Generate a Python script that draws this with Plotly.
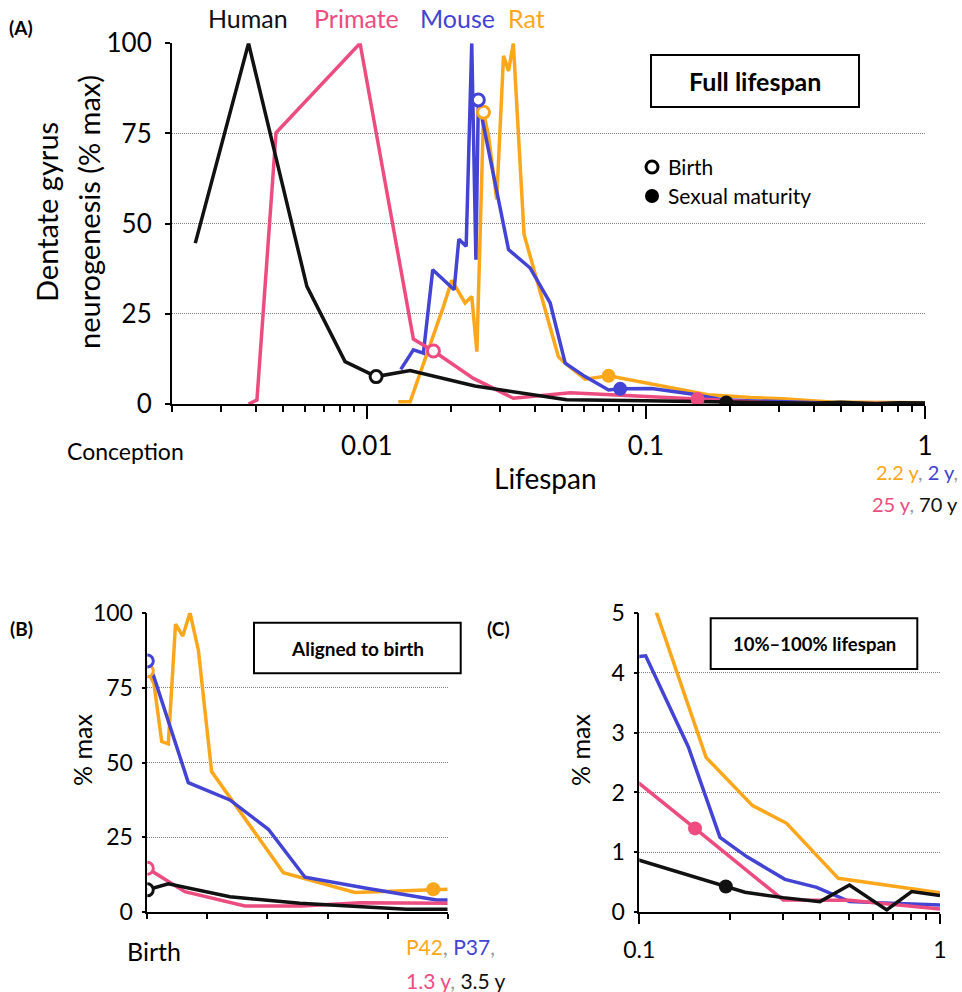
import math
import plotly.graph_objects as go

W, H = 962, 992
FONT = "Lato"

BLACK = "#111111"
PINK = "#EC4C7F"
BLUE = "#4343D4"
ORANGE = "#FCA71B"
GRID = "#808080"
GRIDDASH = "1px,1px"
COMMA = "#9a9a9a"

species = ["Human", "Primate", "Mouse", "Rat"]

# ---------- Full lifespan data (fraction of lifespan, % max) ----------
human_x = [0.00243, 0.00377, 0.0061, 0.00836, 0.0108, 0.0143, 0.0244, 0.052, 0.1, 0.194,
           0.2245, 0.301, 0.399, 0.5, 0.665, 0.805, 1.0]
human_y = [44.6, 100, 32.6, 11.75, 7.6, 9.25, 5.0, 1.2, 0.87, 0.43,
           0.334, 0.245, 0.178, 0.456, 0.039, 0.345, 0.278]
human_birth, human_mat = 4, 9

primate_x = [0.00377, 0.00404, 0.00473, 0.00946, 0.01469, 0.01733, 0.0241, 0.0335, 0.0536,
             0.1, 0.1532, 0.301, 0.5, 0.63, 1.0]
primate_y = [0, 1.1, 75.2, 100, 18.0, 14.7, 7.1, 1.6, 3.1,
             2.15, 1.40, 0.206, 0.2, 0.15, 0.056]
primate_birth, primate_mat = 5, 10

mouse_x = [0.01324, 0.01469, 0.01595, 0.01723, 0.02056, 0.02137, 0.0227, 0.02377, 0.0246,
           0.0251, 0.0322, 0.0385, 0.0454, 0.0514, 0.0606, 0.0735, 0.0809, 0.1, 0.105,
           0.1456, 0.1855, 0.2275, 0.305, 0.389, 0.5, 1.0]
mouse_y = [9.6, 15.0, 14.1, 37.2, 31.7, 45.7, 43.7, 100, 40,
           84.3, 42.8, 37.7, 28, 11.3, 7.6, 3.9, 4.2, 4.27, 4.28,
           2.76, 1.25, 0.93, 0.55, 0.417, 0.178, 0.122]
mouse_birth, mouse_mat = 9, 16

rat_x = [0.01297, 0.0143, 0.01882, 0.02017, 0.0225, 0.02377, 0.0248, 0.0262, 0.0273,
         0.0292, 0.0309, 0.0322, 0.0335, 0.0366, 0.0486, 0.0514, 0.0606, 0.0735, 0.1667,
         0.238, 0.309, 0.459, 1.0]
rat_y = [0.6, 0.6, 27, 34.3, 28, 29.8, 14.5, 80.9, 74.3,
         56.7, 96.5, 92.3, 100, 47, 13.1, 11.3, 6.9, 7.8, 2.586,
         1.78, 1.485, 0.567, 0.328]
rat_birth, rat_mat = 7, 17

# ---------- Aligned to birth (fraction of birth -> maturity interval) ----------
b_human_x = [0, 0.07, 0.275, 0.508, 0.863, 1.0]
b_human_y = [7.5, 9.5, 5.2, 3.0, 1.0, 1.0]
b_primate_x = [0, 0.125, 0.325, 0.514, 0.708, 1.0]
b_primate_y = [14.7, 6.9, 2.1, 2.1, 3.2, 3.0]
b_mouse_x = [0, 0.022, 0.1365, 0.275, 0.403, 0.525, 0.73, 0.963, 1.0]
b_mouse_y = [83.9, 78.6, 43.3, 37.5, 27.7, 11.7, 8.0, 4.1, 4.1]
b_rat_x = [0, 0.022, 0.048, 0.07, 0.094, 0.118, 0.142, 0.17, 0.214, 0.453, 0.691, 0.952, 1.0]
b_rat_y = [80.6, 76.4, 57, 56.2, 96.2, 92.2, 100, 87.5, 47, 13.2, 6.6, 7.7, 7.7]
b_rat_mat = 11

yticks_pct = [0, 25, 50, 75, 100]
yticks_c = [0, 1, 2, 3, 4, 5]

full = [
    (human_x, human_y, human_birth, human_mat, BLACK),
    (primate_x, primate_y, primate_birth, primate_mat, PINK),
    (mouse_x, mouse_y, mouse_birth, mouse_mat, BLUE),
    (rat_x, rat_y, rat_birth, rat_mat, ORANGE),
]
aligned = [
    (b_human_x, b_human_y, BLACK),
    (b_primate_x, b_primate_y, PINK),
    (b_mouse_x, b_mouse_y, BLUE),
    (b_rat_x, b_rat_y, ORANGE),
]

LW = 3.5
fig = go.Figure()

draw_order = [3, 2, 1, 0]
for ax, ay in [("x", "y"), ("x3", "y3")]:
    for i in draw_order:
        xs, ys, bi, mi, col = full[i]
        fig.add_trace(go.Scatter(x=xs, y=ys, mode="lines", xaxis=ax, yaxis=ay,
                                 line=dict(color=col, width=LW), showlegend=False,
                                 hoverinfo="skip"))
    for i in draw_order:
        xs, ys, bi, mi, col = full[i]
        fig.add_trace(go.Scatter(x=[xs[bi]], y=[ys[bi]], mode="markers", xaxis=ax, yaxis=ay,
                                 marker=dict(symbol="circle", size=12, color="white",
                                             line=dict(color=col, width=3)),
                                 showlegend=False, hoverinfo="skip"))
        fig.add_trace(go.Scatter(x=[xs[mi]], y=[ys[mi]], mode="markers", xaxis=ax, yaxis=ay,
                                 marker=dict(symbol="circle", size=14, color=col,
                                             line=dict(width=0)),
                                 showlegend=False, hoverinfo="skip"))

for i in draw_order:
    xs, ys, col = aligned[i]
    fig.add_trace(go.Scatter(x=xs, y=ys, mode="lines", xaxis="x2", yaxis="y2",
                             line=dict(color=col, width=LW), showlegend=False, hoverinfo="skip"))
for i in draw_order:
    xs, ys, col = aligned[i]
    fig.add_trace(go.Scatter(x=[xs[0]], y=[ys[0]], mode="markers", xaxis="x2", yaxis="y2",
                             marker=dict(symbol="circle", size=12, color="white",
                                         line=dict(color=col, width=3)),
                             showlegend=False, hoverinfo="skip"))
fig.add_trace(go.Scatter(x=[b_rat_x[b_rat_mat]], y=[b_rat_y[b_rat_mat]], mode="markers",
                         xaxis="x2", yaxis="y2",
                         marker=dict(symbol="circle", size=14, color=ORANGE, line=dict(width=0)),
                         showlegend=False, hoverinfo="skip"))


def px(x):
    return x / W


def py(y):
    return 1 - y / H


minorA = [k * d for d in (0.001, 0.01, 0.1) for k in range(2, 10) if 0.002 <= k * d <= 1]
minorC = [k * 0.1 for k in range(2, 10)]

axis_common = dict(showline=True, linecolor="black", linewidth=1.5, ticks="outside",
                   tickcolor="black", tickwidth=1.5, zeroline=False, mirror=False,
                   fixedrange=True, automargin=False)

fig.update_layout(
    width=W, height=H, margin=dict(l=0, r=0, t=0, b=0, autoexpand=False),
    paper_bgcolor="white", plot_bgcolor="white",
    font=dict(family=FONT, color="black"),
    showlegend=False,
    xaxis=dict(domain=[px(171.7), px(925)], anchor="y", type="log",
               range=[math.log10(0.002), 0], tickmode="array", tickvals=[0.01, 0.1, 1],
               ticktext=["0.01", "0.1", "1"], ticklen=13, showgrid=False,
               tickfont=dict(size=26), ticklabelstandoff=5,
               minor=dict(ticks="outside", ticklen=6, tickwidth=1.5, tickcolor="black",
                          tickmode="array", tickvals=minorA, showgrid=False),
               **axis_common),
    yaxis=dict(domain=[py(404), py(43.3)], anchor="x", range=[0, 100], tickmode="array",
               tickvals=yticks_pct, ticklen=5, showgrid=True, gridcolor=GRID,
               griddash=GRIDDASH, gridwidth=1, tickfont=dict(size=26), ticklabelstandoff=8,
               **axis_common),
    xaxis2=dict(domain=[px(147.3), px(447.7)], anchor="y2", range=[0, 1], tickmode="array",
                tickvals=[0, 0.2, 0.4, 0.6, 0.8, 1.0], showticklabels=False, ticklen=5,
                showgrid=False, **axis_common),
    yaxis2=dict(domain=[py(912.3), py(612.7)], anchor="x2", range=[0, 100], tickmode="array",
                tickvals=yticks_pct, ticklen=4, showgrid=True, gridcolor=GRID,
                griddash=GRIDDASH, gridwidth=1, tickfont=dict(size=23), ticklabelstandoff=4,
                **axis_common),
    xaxis3=dict(domain=[px(639.3), px(940)], anchor="y3", type="log", range=[-1, 0],
                tickmode="array", tickvals=[0.1, 1], ticktext=["0.1", "1"], ticklen=10,
                showgrid=False, tickfont=dict(size=23), ticklabelstandoff=6,
                minor=dict(ticks="outside", ticklen=6, tickwidth=1.5, tickcolor="black",
                           tickmode="array", tickvals=minorC, showgrid=False),
                **axis_common),
    yaxis3=dict(domain=[py(912.3), py(612.7)], anchor="x3", range=[0, 5], tickmode="array",
                tickvals=yticks_c, ticklen=4, showgrid=True, gridcolor=GRID,
                griddash=GRIDDASH, gridwidth=1, tickfont=dict(size=23), ticklabelstandoff=4,
                **axis_common),
)

shapes = []
ann = []


def box(x0, y0, x1, y1, text, size):
    shapes.append(dict(type="rect", xref="paper", yref="paper", x0=px(x0), x1=px(x1),
                       y0=py(y1), y1=py(y0), line=dict(color="black", width=2),
                       fillcolor="white", layer="above"))
    ann.append(dict(xref="paper", yref="paper", x=px((x0 + x1) / 2), y=py((y0 + y1) / 2),
                    text="<b>%s</b>" % text, showarrow=False, font=dict(size=size),
                    xanchor="center", yanchor="middle"))


def label(x, y, text, size, color="black", xanchor="center", angle=0, bold=False):
    t = "<b>%s</b>" % text if bold else text
    ann.append(dict(xref="paper", yref="paper", x=px(x), y=py(y), text=t, showarrow=False,
                    font=dict(size=size, color=color), xanchor=xanchor, yanchor="middle",
                    textangle=angle))


box(651, 55, 859, 107, "Full lifespan", 25)
box(254, 622.7, 460.7, 673.3, "Aligned to birth", 19)
box(710.7, 618.3, 917.3, 669, "10%–100% lifespan", 18.5)

# panel letters
label(21, 27, "(A)", 19, bold=True)
label(21, 628, "(B)", 19, bold=True)
label(498, 628, "(C)", 19, bold=True)

# species legend
for name, xc, col in [("Human", 248, BLACK), ("Primate", 356, PINK),
                      ("Mouse", 457, BLUE), ("Rat", 526, ORANGE)]:
    label(xc, 18, name, 25, color=col)

# birth / maturity legend
shapes.append(dict(type="circle", xref="paper", yref="paper", xsizemode="pixel",
                   ysizemode="pixel", xanchor=px(652), yanchor=py(167),
                   x0=-6, x1=6, y0=-6, y1=6, line=dict(color="black", width=3),
                   fillcolor="white"))
shapes.append(dict(type="circle", xref="paper", yref="paper", xsizemode="pixel",
                   ysizemode="pixel", xanchor=px(652), yanchor=py(196),
                   x0=-7, x1=7, y0=-7, y1=7, line=dict(color="black", width=0),
                   fillcolor="black"))
label(666, 166, "Birth", 21, xanchor="left")
label(666, 196, "Sexual maturity", 21, xanchor="left")

# axis titles
label(46, 212, "Dentate gyrus", 29, angle=-90)
label(88, 212, "neurogenesis (% max)", 29, angle=-90)
label(545, 478, "Lifespan", 28)
label(125, 451, "Conception", 23)
label(82, 750, "% max", 25, angle=-90)
label(580, 750, "% max", 25, angle=-90)
label(154, 951, "Birth", 25)


def c(t, col):
    return "<span style='color:%s'>%s</span>" % (col, t)


comma = c(",", COMMA)
label(960, 472, c("2.2 y", ORANGE) + comma + " " + c("2 y", BLUE) + comma, 20, xanchor="right")
label(960, 504, c("25 y", PINK) + comma + " " + c("70 y", BLACK), 20, xanchor="right")
label(404, 946, c("P42", ORANGE) + comma + " " + c("P37", BLUE) + comma, 21, xanchor="left")
label(404, 980, c("1.3 y", PINK) + comma + " " + c("3.5 y", BLACK), 21, xanchor="left")

fig.update_layout(shapes=shapes, annotations=ann)
fig.write_html("out.html", config={"displayModeBar": False},
               post_script="document.body.style.margin='0';document.body.style.overflow='hidden';")
